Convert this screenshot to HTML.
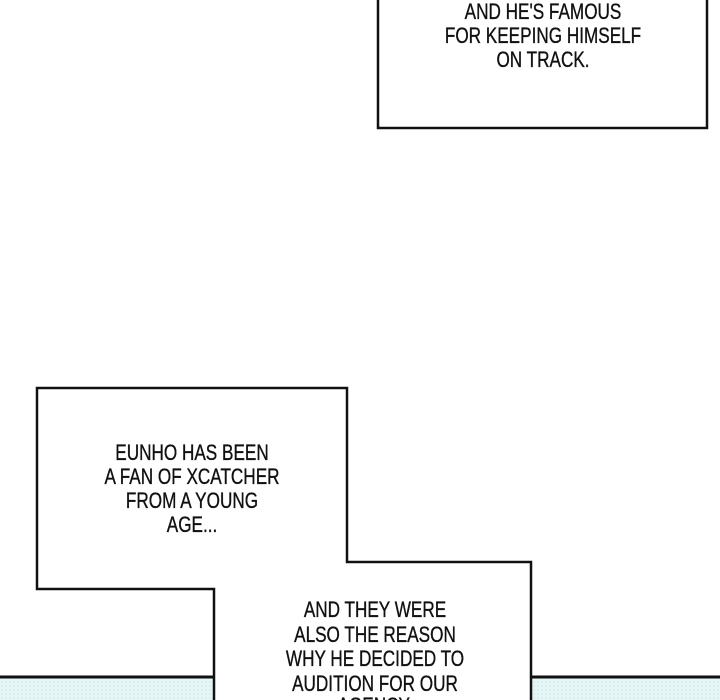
<!DOCTYPE html>
<html><head><style>
html,body{margin:0;padding:0;background:#fff;}
svg{display:block;}
text{font-family:"Liberation Sans",sans-serif;font-size:22px;fill:#111;stroke:#111;stroke-width:0.35;text-anchor:middle;}
</style></head><body>
<svg width="720" height="700" viewBox="0 0 720 700" xmlns="http://www.w3.org/2000/svg">
<defs>
<pattern id="dots" width="4" height="4" patternUnits="userSpaceOnUse">
<rect width="4" height="4" fill="#e6f6f6"/><circle cx="2" cy="2" r="0.8" fill="#c8e6e8"/>
</pattern>
</defs>
<rect x="0" y="677" width="720" height="23" fill="url(#dots)"/>
<line x1="0" y1="677" x2="720" y2="677" stroke="#111" stroke-width="3"/>
<rect x="378" y="-5" width="329" height="133" fill="#fff" stroke="#111" stroke-width="2.5"/>
<path d="M37 388 H347 V562 H531 V703 H214 V589 H37 Z" fill="#fff" stroke="#111" stroke-width="2.5"/>
<g>
<text transform="translate(543,19) scale(0.78,1)">AND HE'S FAMOUS</text>
<text transform="translate(543,43) scale(0.78,1)">FOR KEEPING HIMSELF</text>
<text transform="translate(543,67) scale(0.78,1)">ON TRACK.</text>
<text transform="translate(192,460) scale(0.78,1)">EUNHO HAS BEEN</text>
<text transform="translate(192,484) scale(0.78,1)">A FAN OF XCATCHER</text>
<text transform="translate(192,508) scale(0.78,1)">FROM A YOUNG</text>
<text transform="translate(192,532) scale(0.78,1)">AGE...</text>
<text transform="translate(375,617) scale(0.78,1)">AND THEY WERE</text>
<text transform="translate(375,642) scale(0.78,1)">ALSO THE REASON</text>
<text transform="translate(375,666) scale(0.78,1)">WHY HE DECIDED TO</text>
<text transform="translate(375,691) scale(0.78,1)">AUDITION FOR OUR</text>
<text transform="translate(375,713) scale(0.78,1)">AGENCY.</text>
</g>
</svg>
</body></html>
